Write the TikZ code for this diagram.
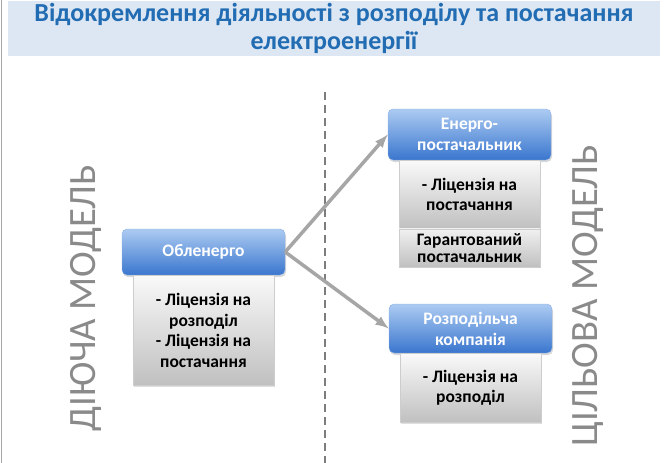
\documentclass[tikz,border=0pt]{standalone}
\usepackage{fontspec}
\setmainfont{Carlito}
\usetikzlibrary{positioning}
\usetikzlibrary{shadows}

\definecolor{titleblue}{RGB}{33,108,178}
\definecolor{bandblue}{RGB}{221,231,243}
\definecolor{headtop}{RGB}{172,203,242}
\definecolor{headbot}{RGB}{58,118,206}
\definecolor{headline}{RGB}{140,175,228}
\definecolor{bodytop}{RGB}{249,249,249}
\definecolor{bodybot}{RGB}{192,192,192}
\definecolor{bodyline}{RGB}{205,205,205}
\definecolor{sidegray}{RGB}{138,138,138}
\definecolor{arrowgray}{RGB}{166,166,166}
\definecolor{dashgray}{RGB}{125,125,125}

\tikzset{
  head/.style={rounded corners=5pt, draw=headline, top color=headtop, bottom color=headbot,
    text=white, font=\bfseries\fontsize{17.5}{21}\selectfont, align=center,
    minimum width=163pt, minimum height=49pt, inner sep=2pt,
    drop shadow={opacity=0.3, shadow xshift=1pt, shadow yshift=-2pt}},
  body/.style={draw=bodyline, top color=bodytop, bottom color=bodybot,
    font=\bfseries\fontsize{17.5}{20.5}\selectfont, align=center,
    minimum width=141pt, inner sep=2pt,
    drop shadow={opacity=0.25, shadow xshift=1pt, shadow yshift=-1.5pt}},
  side/.style={rotate=90, text=sidegray, font=\fontsize{38.7}{40}\selectfont},
  link/.style={line width=3.5pt, draw=arrowgray, -{latex}}
}

\begin{document}
\begin{tikzpicture}[x=1pt,y=1pt]
    \useasboundingbox (0,0) rectangle (667,-463);

    \node[fill=bandblue, minimum width=652pt, minimum height=55pt, inner sep=0pt,
      text=titleblue, font=\bfseries\fontsize{26}{28}\selectfont, align=center]
      (T) at (334,-28) {Відокремлення діяльності з розподілу та постачання\\електроенергії};

    \coordinate (L1) at (1.5,0);
    \coordinate (L2) at (1.5,-463);
    \draw[line width=1.2pt, draw=arrowgray] (L1) -- (L2);

    \coordinate (D1) at (325,-92);
    \coordinate (D2) at (325,-463);
    \draw[line width=2pt, draw=dashgray, dash pattern=on 8pt off 5pt] (D1) -- (D2);

    \node[side] (DM) at (86,-298) {ДІЮЧА МОДЕЛЬ};
    \node[side] (CM) at (588,-296) {ЦІЛЬОВА МОДЕЛЬ};

    % current model
    \node[head, minimum height=46pt] (OE) at (203.5,-252) {Обленерго};
    \node[body, minimum height=110pt, below=0pt of OE]
      (OEb) {- Ліцензія на\\розподіл\\- Ліцензія на\\постачання};

    % target model
    \node[head, minimum height=51pt] (EP) at (469.5,-134.5) {Енерго-\\постачальник};
    \node[body, minimum height=68pt, below=0pt of EP] (EPb) {- Ліцензія на\\постачання};
    \node[body, minimum height=38pt, top color=bodytop!85!bodybot,
      font=\bfseries\fontsize{17.5}{17}\selectfont, below=0pt of EPb]
      (EPg) {Гарантований\\постачальник};

    \node[head] (RK) at (470.5,-328.5) {Розподільча\\компанія};
    \node[body, minimum height=69pt, below=0pt of RK] (RKb) {- Ліцензія на\\розподіл};

    \draw[link] (OE.east) -- (EP.west);
    \draw[link] (OE.east) -- (RK.west);
\end{tikzpicture}
\end{document}
